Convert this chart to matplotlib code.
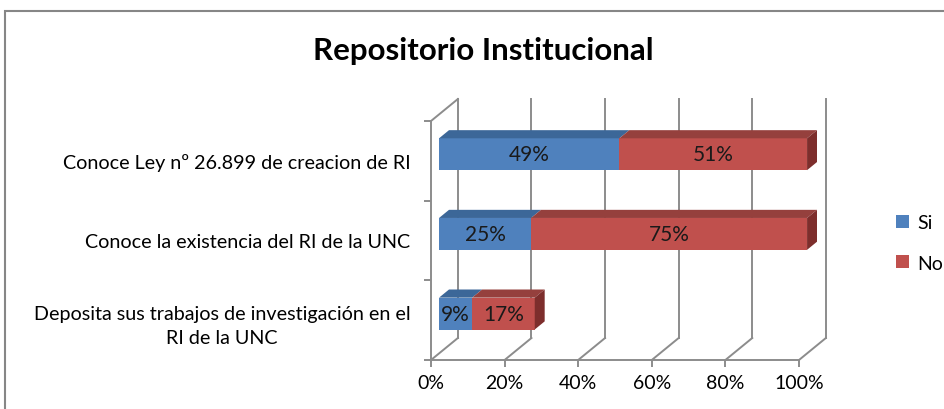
#!/usr/bin/env python3
"""Excel-style 3D stacked bar: Repositorio Institucional."""

import matplotlib

matplotlib.use("Agg")
import matplotlib.pyplot as plt
from matplotlib.patches import Patch, Polygon, Rectangle

plt.rcParams["font.family"] = ["Lato", "DejaVu Sans"]

categories = [
    "Deposita sus trabajos de investigación en el\nRI de la UNC",
    "Conoce la existencia del RI de la UNC",
    "Conoce Ley nº 26.899 de creacion de RI",
]
si_pct = [9, 25, 49]
no_pct = [17, 75, 51]
series_names = ["Si", "No"]
x_ticks = [0, 20, 40, 60, 80, 100]
x_tick_labels = ["0%", "20%", "40%", "60%", "80%", "100%"]

# oblique depth of the 3D box, in data units (x: percent, y: category)
DEPTH_X = 7.3
DEPTH_Y = 0.276
BAR_FRONT = 0.30
BAR_BACK = 0.67
BAR_H = 0.40

GRID = "#8c8c8c"
FACE = {"Si": "#4f81bd", "No": "#c0504d"}
TOP = {"Si": "#3c6798", "No": "#95403d"}
SIDE = {"Si": "#2f557f", "No": "#7d2e2c"}


def _draw_box(ax):
    n = len(categories)
    kw = dict(color=GRID, linewidth=1.4, clip_on=False, zorder=1)
    ax.plot([0, 0], [0, n], **kw)
    ax.plot([0, 100], [0, 0], **kw)
    ax.plot([0, DEPTH_X], [n, n + DEPTH_Y], **kw)
    for x in x_ticks:
        ax.plot([x, x + DEPTH_X], [0, DEPTH_Y], **kw)
        ax.plot([x + DEPTH_X, x + DEPTH_X], [DEPTH_Y, n + DEPTH_Y], **kw)


def _segment(ax, i, x0, x1, name, right_side):
    fx, bx = BAR_FRONT * DEPTH_X, BAR_BACK * DEPTH_X
    up = (BAR_BACK - BAR_FRONT) * DEPTH_Y
    yc = i + 0.5 + BAR_FRONT * DEPTH_Y
    yb, yt = yc - BAR_H / 2, yc + BAR_H / 2
    front = [(x0 + fx, yb), (x1 + fx, yb), (x1 + fx, yt), (x0 + fx, yt)]
    top = [(x0 + fx, yt), (x1 + fx, yt), (x1 + bx, yt + up), (x0 + bx, yt + up)]
    ax.add_patch(Polygon(front, closed=True, facecolor=FACE[name], edgecolor="none", clip_on=False, zorder=3))
    ax.add_patch(Polygon(top, closed=True, facecolor=TOP[name], edgecolor="none", clip_on=False, zorder=3))
    if right_side:
        side = [(x1 + fx, yb), (x1 + fx, yt), (x1 + bx, yt + up), (x1 + bx, yb + up)]
        ax.add_patch(Polygon(side, closed=True, facecolor=SIDE[name], edgecolor="none", clip_on=False, zorder=3))
    ax.text((x0 + x1) / 2 + fx, yc, f"{x1 - x0:g}%", ha="center", va="center",
            fontsize=15, color="#1a1a1a", zorder=4)


def main():
    fig = plt.figure(figsize=(9.44, 4.10), dpi=100)
    ax = fig.add_axes([431 / 944, 49 / 410, 368 / 944, 239 / 410])
    ax.set_xlim(0, 100)
    ax.set_ylim(0, len(categories))
    for s in ax.spines.values():
        s.set_visible(False)

    _draw_box(ax)
    for i in range(len(categories)):
        _segment(ax, i, 0, si_pct[i], "Si", False)
        _segment(ax, i, si_pct[i], si_pct[i] + no_pct[i], "No", True)

    ax.set_xticks(x_ticks, x_tick_labels)
    ax.tick_params(axis="x", length=5, width=1.4, color=GRID, labelsize=14, pad=5)
    ax.set_yticks([i + 0.5 for i in range(len(categories))], categories)
    ax.set_yticks(range(len(categories) + 1), minor=True)
    ax.tick_params(axis="y", which="major", length=0, labelsize=14.2, pad=15)
    ax.tick_params(axis="y", which="minor", length=5, width=1.4, color=GRID)
    for t in ax.get_yticklabels():
        t.set_linespacing(1.5)
        t.set_multialignment("center")

    fig.text(483 / 944, 359 / 410, "Repositorio Institucional", ha="center", va="center",
             fontsize=22.5, fontweight="bold")
    handles = [Patch(facecolor=FACE[n], edgecolor="none", label=n) for n in series_names]
    fig.legend(handles=handles, loc="center left", bbox_to_anchor=(896 / 944, 166 / 410),
               frameon=False, handlelength=0.65, handleheight=0.65, handletextpad=0.45,
               labelspacing=1.2, fontsize=14, borderpad=0, borderaxespad=0)

    fig.patches.append(Rectangle((5 / 944, -0.05), 1.0, (398 / 410) + 0.05, transform=fig.transFigure,
                                 fill=False, edgecolor="#868686", linewidth=1.5))
    fig.savefig("out.png", dpi=100)
    plt.close(fig)


if __name__ == "__main__":
    main()
